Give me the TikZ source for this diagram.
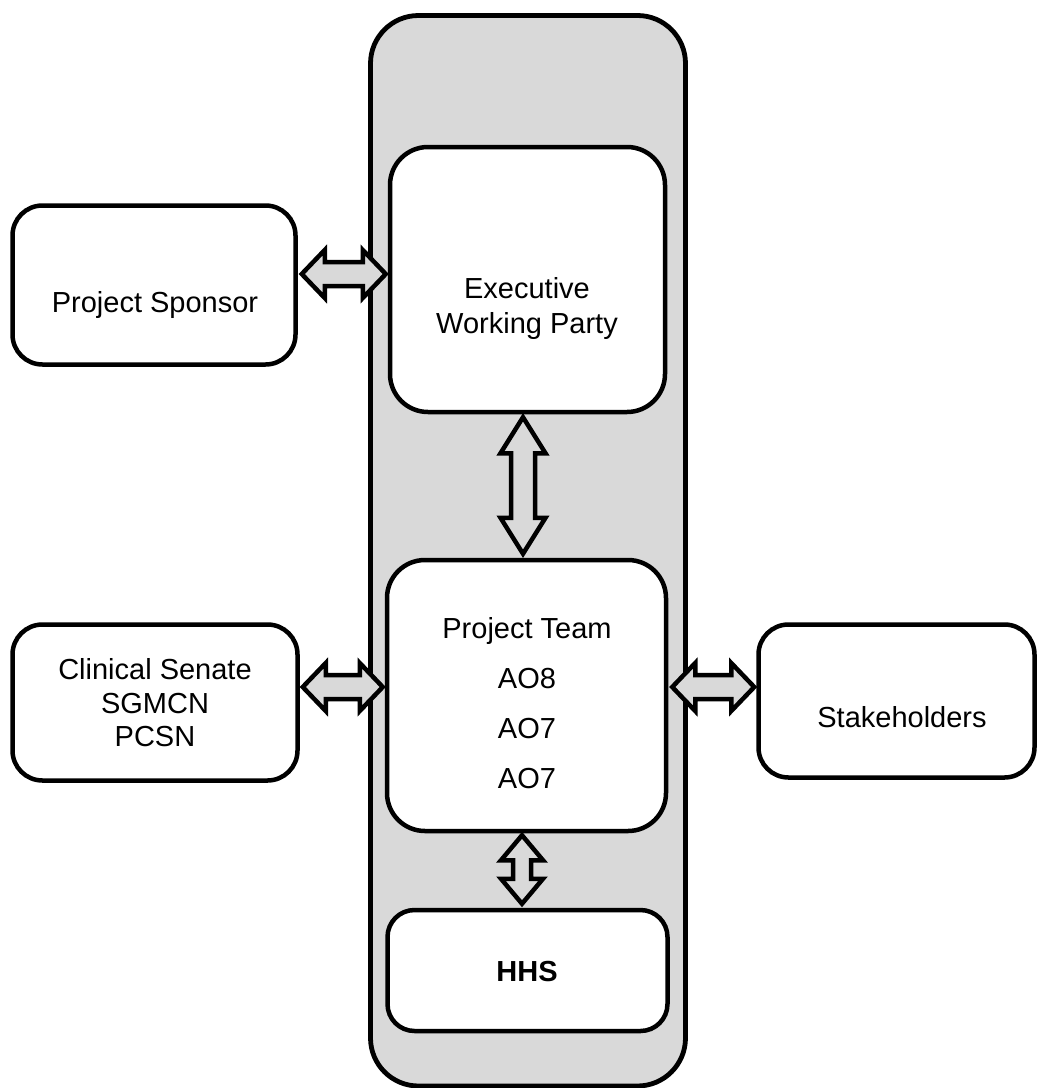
\documentclass[tikz,border=0pt]{standalone}
\usepackage{fontspec}
\setmainfont{Liberation Sans}
\usetikzlibrary{calc}
\definecolor{panelgray}{HTML}{D9D9D9}
\newcommand\dblarr[5]{%
  \coordinate (s1) at ($(#1)!#5!(#2)$);
  \coordinate (s2) at ($(#2)!#5!(#1)$);
  \draw[arrowsty] (#1) -- ($(s1)!#3!90:(#2)$) -- ($(s1)!#4!90:(#2)$)
    -- ($(s2)!#4!-90:(#1)$) -- ($(s2)!#3!-90:(#1)$) -- (#2)
    -- ($(s2)!#3!90:(#1)$) -- ($(s2)!#4!90:(#1)$)
    -- ($(s1)!#4!-90:(#2)$) -- ($(s1)!#3!-90:(#2)$) -- cycle;}
\begin{document}
\begin{tikzpicture}[x=1pt,y=-1pt,
  box/.style={draw=black, line width=4.5pt, fill=white, rounded corners=30pt, inner sep=0pt},
  bigbox/.style={box, rounded corners=38pt},
  outerbox/.style={draw=black, line width=4.8pt, fill=panelgray, rounded corners=48pt, inner sep=0pt},
  lbl/.style={inner sep=0pt, align=center, font=\fontsize{29}{33.5}\selectfont},
  arrowsty/.style={draw=black, line width=4.5pt, fill=panelgray, line join=miter}]
\useasboundingbox (0,0) rectangle (1037,1088);
\fill[white] (0,0) rectangle (1037,1088);

\node[outerbox, minimum width=315pt, minimum height=1070.5pt] (outer) at (528,550.75) {};

\node[box, minimum width=283pt, minimum height=159pt] (sp) at (154,285) {};
\node[lbl] (sptxt) at (155,304.6) {Project Sponsor};

\node[bigbox, minimum width=275pt, minimum height=265pt] (ewp) at (527.5,279.5) {};
\node[lbl, font=\fontsize{29}{35}\selectfont] (ewptxt) at (527,308.1) {Executive\\Working Party};

\node[box, minimum width=285pt, minimum height=156pt] (cs) at (155,702.5) {};
\node[lbl] (cstxt) at (155,703.1) {Clinical Senate\\SGMCN\\PCSN};

\node[bigbox, minimum width=279pt, minimum height=271pt] (pt) at (526.5,695.5) {};
\node[lbl, font=\fontsize{29}{49.7}\selectfont] (pttxt) at (527,703.1) {Project Team\\AO8\\AO7\\AO7};

\node[box, minimum width=276pt, minimum height=153pt] (sh) at (896.5,701) {};
\node[lbl] (shtxt) at (902,717.6) {Stakeholders};

\node[box, rounded corners=27pt, minimum width=280pt, minimum height=121pt] (hhs) at (527.5,970.5) {};
\node[lbl, font=\fontsize{29}{33.5}\selectfont\bfseries] (hhstxt) at (527,971.8) {HHS};

% connector end points on the node borders
\coordinate (a1s) at ($(sp.east |- 0,274)+(4,0)$);
\coordinate (a1e) at ($(ewp.west |- 0,274)+(-2,0)$);
\coordinate (a2s) at ($(cs.east |- 0,687)+(3,0)$);
\coordinate (a2e) at ($(pt.west |- 0,687)+(-2,0)$);
\coordinate (a3s) at ($(pt.east |- 0,687)+(4,0)$);
\coordinate (a3e) at ($(sh.west |- 0,687)+(-2,0)$);
\coordinate (a4s) at ($(ewp.south -| 523,0)+(0,3)$);
\coordinate (a4e) at ($(pt.north -| 523,0)+(0,-4)$);
\coordinate (a5s) at ($(pt.south -| 522,0)+(0,2)$);
\coordinate (a5e) at ($(hhs.north -| 522,0)+(0,-4)$);

\dblarr{a1s}{a1e}{24pt}{12pt}{23pt}
\dblarr{a2s}{a2e}{24pt}{12pt}{23pt}
\dblarr{a3s}{a3e}{24pt}{12pt}{23pt}
\dblarr{a4s}{a4e}{22.5pt}{12pt}{36pt}
\dblarr{a5s}{a5e}{21pt}{9pt}{25pt}
\end{tikzpicture}
\end{document}
